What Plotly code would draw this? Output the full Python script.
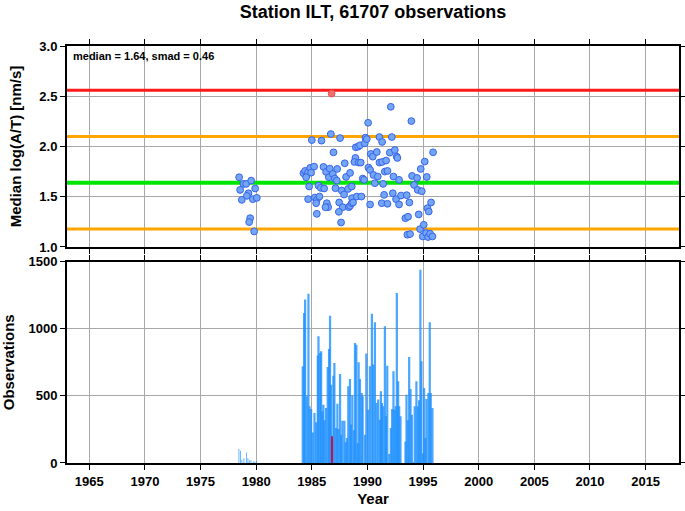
import plotly.graph_objects as go

# ---------------- data ----------------
title_text = "Station ILT, 61707 observations"
median = 1.64
smad = 0.46

# median log(A/T) per time bin
pt_years = [1978.47, 1978.86, 1979.10, 1979.55, 1978.56, 1979.31, 1979.91, 1979.16, 1978.71, 1979.70,
            1980.06, 1979.46, 1979.37, 1979.82,
            1985.00, 1985.87, 1986.71, 1987.54, 1986.95, 1984.25, 1984.40, 1984.55, 1984.67, 1984.85,
            1985.21, 1984.94, 1984.49, 1984.76, 1986.05, 1986.29, 1986.62, 1986.53, 1986.89, 1987.07,
            1987.28, 1987.25, 1987.96, 1988.08, 1988.44, 1985.60, 1985.81, 1986.11, 1987.13, 1987.69,
            1987.90, 1988.26, 1988.59, 1984.67, 1985.27, 1985.45, 1985.69, 1985.39, 1986.35, 1986.47,
            1986.23, 1985.45, 1987.46, 1987.78, 1988.32, 1988.44, 1988.59, 1987.43, 1987.63, 1988.92,
            1988.83, 1989.22, 1989.40, 1989.58, 1989.70, 1988.62, 1989.04, 1989.46, 1988.71, 1990.24,
            1988.95, 1989.16, 1989.34, 1989.76, 1989.82, 1989.94, 1990.06, 1992.10, 1993.95, 1990.30,
            1990.48, 1990.84, 1990.09, 1990.24, 1990.54, 1990.93, 1990.66, 1991.08, 1991.32, 1991.68,
            1991.56, 1991.80, 1991.41, 1991.08, 1991.32, 1992.19, 1992.01, 1992.46, 1992.63, 1992.69,
            1992.34, 1992.84, 1991.50, 1991.29, 1991.80, 1992.28, 1992.57, 1992.84, 1993.02, 1993.53,
            1993.77, 1993.41, 1993.65, 1994.61, 1994.01, 1994.46, 1995.33, 1994.19, 1994.52, 1994.88,
            1994.79, 1995.15, 1995.90, 1995.72, 1995.39, 1995.51, 1994.73, 1995.06, 1993.59, 1993.83,
            1994.97, 1995.27, 1995.45, 1995.63, 1995.84]
pt_values = [1.694, 1.628, 1.628, 1.661, 1.568, 1.535, 1.582, 1.509, 1.469, 1.476,
             1.489, 1.287, 1.248, 1.155,
             2.064, 2.058, 2.124, 2.084, 1.942, 1.734, 1.757, 1.717, 1.744, 1.787,
             1.800, 1.740, 1.694, 1.602, 1.797, 1.747, 1.780, 1.694, 1.727, 1.681,
             1.777, 1.661, 1.833, 1.697, 1.737, 1.611, 1.588, 1.582, 1.585, 1.562,
             1.522, 1.578, 1.602, 1.476, 1.492, 1.469, 1.502, 1.436, 1.436, 1.396,
             1.396, 1.330, 1.443, 1.396, 1.396, 1.410, 1.436, 1.350, 1.244, 1.886,
             1.846, 1.840, 1.840, 1.681, 1.668, 1.486, 1.502, 1.502, 1.443, 1.423,
             1.992, 1.998, 2.012, 2.031, 2.088, 2.074, 2.236, 2.395, 2.253, 1.926,
             1.899, 1.945, 1.790, 1.767, 1.717, 1.701, 1.635, 1.840, 1.846, 1.860,
             1.750, 1.757, 1.628, 2.094, 2.045, 2.094, 1.939, 1.965, 1.899, 1.886,
             1.701, 1.668, 1.519, 1.436, 1.430, 1.535, 1.476, 1.423, 1.512, 1.516,
             1.443, 1.287, 1.301, 1.324, 1.707, 1.687, 1.697, 1.618, 1.568, 1.555,
             1.777, 1.850, 1.942, 1.443, 1.386, 1.353, 1.178, 1.221, 1.122, 1.129,
             1.105, 1.139, 1.099, 1.132, 1.105]

outlier_years = [1986.78]
outlier_values = [2.527]

# observation counts per time bin
early_years = [1978.45, 1978.60, 1978.72, 1978.90, 1979.14, 1979.26, 1979.38, 1979.53, 1979.74, 1979.89, 1980.04]
early_counts = [104, 92, 25, 37, 79, 37, 20, 20, 12, 12, 12]

bar_years = [1984.19, 1984.31, 1984.40, 1984.55, 1984.70, 1984.79, 1984.94, 1985.09, 1985.24, 1985.39,
             1985.54, 1985.60, 1985.75, 1985.84, 1985.96, 1986.04, 1986.13, 1986.28, 1986.43, 1986.55,
             1986.64, 1986.73, 1986.94, 1987.03, 1987.18, 1987.30, 1987.39, 1987.54, 1987.63, 1987.75,
             1987.93, 1988.04, 1988.16, 1988.28, 1988.43, 1988.52, 1988.64, 1988.79, 1988.88, 1989.00,
             1989.12, 1989.21, 1989.33, 1989.48, 1989.57, 1989.78, 1989.90, 1990.07, 1990.22, 1990.40,
             1990.52, 1990.67, 1990.82, 1990.97, 1991.12, 1991.21, 1991.30, 1991.42, 1991.57, 1991.66,
             1991.78, 1991.96, 1992.10, 1992.22, 1992.34, 1992.43, 1992.55, 1992.64, 1992.76, 1992.85,
             1992.97, 1993.42, 1993.51, 1993.63, 1993.75, 1993.87, 1993.99, 1994.10, 1994.25, 1994.40,
             1994.52, 1994.64, 1994.76, 1994.85, 1995.00, 1995.09, 1995.21, 1995.30, 1995.48, 1995.60,
             1995.69, 1995.84]
bar_counts = [720, 1117, 1217, 497, 1261, 422, 402, 228, 372, 303,
              800, 944, 820, 832, 385, 434, 318, 410, 715, 849,
              1097, 583, 650, 745, 261, 442, 253, 663, 211, 315,
              315, 154, 186, 571, 626, 286, 502, 243, 894, 881,
              149, 750, 626, 521, 497, 211, 815, 397, 720, 1112,
              733, 1048, 447, 472, 323, 534, 447, 422, 1018, 348,
              725, 67, 261, 402, 683, 397, 422, 1266, 608, 422,
              348, 161, 509, 318, 790, 551, 360, 5, 422, 608,
              422, 467, 1440, 757, 70, 559, 186, 477, 521, 1048,
              521, 410]

red_bar_years = [1986.79]
red_bar_counts = [199]

x_range = [1963, 2018]
x_ticks = [1965, 1970, 1975, 1980, 1985, 1990, 1995, 2000, 2005, 2010, 2015]
y1_ticks = [1.0, 1.5, 2.0, 2.5, 3.0]
y2_ticks = [0, 500, 1000, 1500]

# ---------------- figure ----------------
fig = go.Figure()

ref_lines = [
    (median + 2 * smad, "#ff1a1a", 3),
    (median + smad, "#ffa500", 3),
    (median - smad, "#ffa500", 3),
    (median, "#00e600", 4),
]
for val, col, w in ref_lines:
    fig.add_trace(go.Scatter(x=x_range, y=[val, val], mode="lines",
                             line=dict(color=col, width=w), xaxis="x", yaxis="y",
                             showlegend=False, hoverinfo="skip"))

fig.add_trace(go.Scatter(x=pt_years, y=pt_values, mode="markers",
                         marker=dict(size=6.8, color="rgb(115,165,245)",
                                     line=dict(color="rgb(55,100,235)", width=1)),
                         xaxis="x", yaxis="y", showlegend=False))
fig.add_trace(go.Scatter(x=outlier_years, y=outlier_values, mode="markers",
                         marker=dict(size=6.8, color="rgb(240,110,110)",
                                     line=dict(color="rgb(235,80,80)", width=1)),
                         xaxis="x", yaxis="y", showlegend=False))

fig.add_trace(go.Bar(x=early_years, y=early_counts, width=0.07,
                     marker=dict(color="rgba(30,144,255,0.85)", line=dict(width=0)),
                     xaxis="x2", yaxis="y2", showlegend=False))
fig.add_trace(go.Bar(x=bar_years, y=bar_counts, width=0.2,
                     marker=dict(color="rgba(30,144,255,0.8)", line=dict(width=0)),
                     xaxis="x2", yaxis="y2", showlegend=False))
fig.add_trace(go.Bar(x=red_bar_years, y=red_bar_counts, width=0.06,
                     marker=dict(color="#d0103a", line=dict(width=0)),
                     xaxis="x2", yaxis="y2", showlegend=False))

font_fam = "Liberation Sans, Arial, sans-serif"
axis_common = dict(showline=True, linecolor="black", linewidth=2, mirror="ticks",
                   ticks="outside", ticklen=5, tickcolor="black", tickwidth=1,
                   showgrid=True, gridcolor="#a8a8a8", gridwidth=1, zeroline=False,
                   automargin=False,
                   tickfont=dict(family=font_fam, size=13, color="black", weight="bold"))

fig.update_layout(
    width=685, height=511,
    margin=dict(l=67, r=6, t=46, b=48),
    paper_bgcolor="white", plot_bgcolor="white",
    barmode="overlay",
    font=dict(family=font_fam, color="black"),
    title=dict(text=title_text, x=0.5, xref="paper", xanchor="center",
               y=1 - 12 / 511, yref="container", yanchor="middle",
               font=dict(family=font_fam, size=18, color="black", weight="bold")),
    xaxis=dict(range=x_range, tickvals=x_ticks, showticklabels=False, anchor="y",
               domain=[0, 1], **axis_common),
    yaxis=dict(range=[1, 3], tickvals=y1_ticks, tickformat=".1f", domain=[0.518, 1],
               anchor="x",
               title=dict(text="Median log(A/T) [nm/s]",
                          font=dict(size=15, family=font_fam, weight="bold"), standoff=14),
               **axis_common),
    xaxis2=dict(range=x_range, tickvals=x_ticks, anchor="y2", domain=[0, 1],
                title=dict(text="Year", font=dict(size=15, family=font_fam, weight="bold"),
                           standoff=6),
                **axis_common),
    yaxis2=dict(range=[0, 1500], tickvals=y2_ticks, domain=[0, 0.483], anchor="x2",
                title=dict(text="Observations", font=dict(size=15, family=font_fam, weight="bold"),
                           standoff=13),
                **axis_common),
    annotations=[dict(text="median = %.2f, smad = %.2f" % (median, smad),
                      xref="x domain", yref="y domain", x=0.006, y=0.99,
                      xanchor="left", yanchor="top", showarrow=False,
                      font=dict(family=font_fam, size=11, color="black", weight="bold"))],
)

fig.write_html("out.html", config={"displayModeBar": False},
               post_script="document.body.style.margin='0px';")
